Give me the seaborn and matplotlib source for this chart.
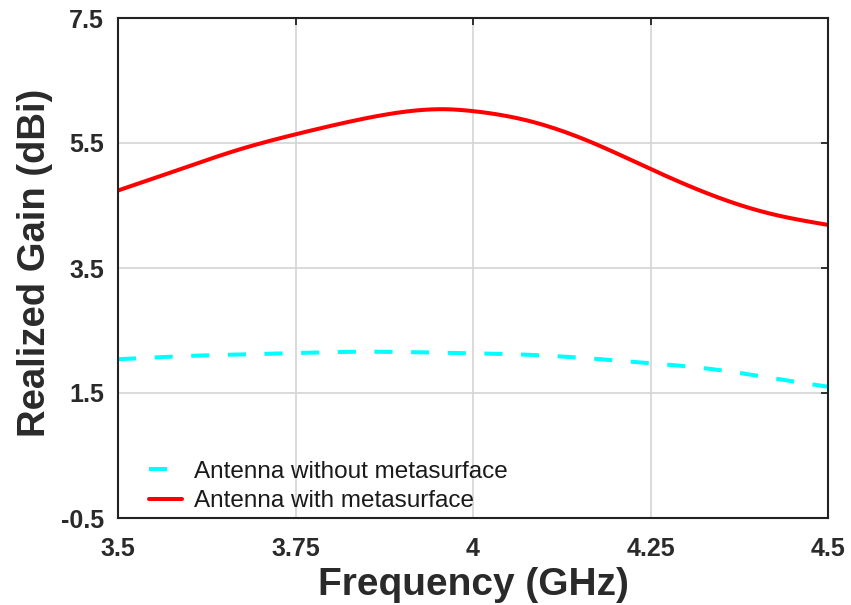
import numpy as np
import pandas as pd
import matplotlib
matplotlib.use("Agg")
import matplotlib.pyplot as plt
import seaborn as sns

# Data
freq_with = [3.5, 3.585, 3.669, 3.754, 3.838, 3.897, 3.963, 4.0, 4.08, 4.165, 4.249, 4.331, 4.415, 4.5]
gain_with = [4.74, 5.07, 5.39, 5.65, 5.87, 5.99, 6.04, 6.01, 5.85, 5.52, 5.09, 4.69, 4.38, 4.19]

freq_without = [3.5, 3.617, 3.721, 3.838, 3.979, 4.028, 4.131, 4.235, 4.338, 4.437, 4.5]
gain_without = [2.04, 2.10, 2.13, 2.16, 2.14, 2.13, 2.08, 1.99, 1.88, 1.71, 1.60]

labels = ["Antenna without metasurface", "Antenna with metasurface"]
xticks = [3.5, 3.75, 4.0, 4.25, 4.5]
xticklabels = ["3.5", "3.75", "4", "4.25", "4.5"]
yticks = [-0.5, 1.5, 3.5, 5.5, 7.5]

sns.set_style("white")
plt.rcParams['font.family'] = ['Liberation Sans', 'DejaVu Sans']


def smooth(x, y, n=300):
    # natural cubic spline through the read points (for a smooth drawn curve)
    x = np.asarray(x, float); y = np.asarray(y, float)
    xs = np.linspace(x.min(), x.max(), n)
    h = np.diff(x)
    nn = len(x)
    A = np.zeros((nn, nn)); b = np.zeros(nn)
    A[0, 0] = 1; A[-1, -1] = 1
    for i in range(1, nn - 1):
        A[i, i - 1] = h[i - 1]; A[i, i] = 2 * (h[i - 1] + h[i]); A[i, i + 1] = h[i]
        b[i] = 3 * ((y[i + 1] - y[i]) / h[i] - (y[i] - y[i - 1]) / h[i - 1])
    c = np.linalg.solve(A, b)
    ys = np.empty_like(xs)
    for k, xv in enumerate(xs):
        i = min(np.searchsorted(x, xv, side='right') - 1, nn - 2)
        dx = xv - x[i]
        bb = (y[i + 1] - y[i]) / h[i] - h[i] * (2 * c[i] + c[i + 1]) / 3
        d = (c[i + 1] - c[i]) / (3 * h[i])
        ys[k] = y[i] + bb * dx + c[i] * dx ** 2 + d * dx ** 3
    return xs, ys


xw, yw = smooth(freq_without, gain_without)
xr, yr = smooth(freq_with, gain_with)
df = pd.concat([
    pd.DataFrame({"Frequency": xw, "Gain": yw, "Series": labels[0]}),
    pd.DataFrame({"Frequency": xr, "Gain": yr, "Series": labels[1]}),
])

fig = plt.figure(figsize=(8.51, 6.05), dpi=100)
ax = fig.add_axes([118 / 851, 1 - 518 / 605, 710 / 851, 500 / 605])

sns.lineplot(data=df, x="Frequency", y="Gain", hue="Series", style="Series",
             palette={labels[0]: "#00FFFF", labels[1]: "#FF0000"},
             dashes={labels[0]: (4.5, 4.6), labels[1]: ""},
             linewidth=2.9, ax=ax, sort=False, estimator=None)

ax.set_xlim(3.5, 4.5)
ax.set_ylim(-0.5, 7.5)
ax.set_xticks(xticks)
ax.set_xticklabels(xticklabels)
ax.set_yticks(yticks)
ax.set_yticklabels([("%g" % v) for v in yticks])
ax.grid(True, color="#d4d4d4", linewidth=1.2)
ax.tick_params(direction="in", length=5, width=1.3, top=True, right=True,
               labelsize=18, colors="#222222")
ax.tick_params(axis="x", pad=14)
ax.tick_params(axis="y", pad=10)
for lab in ax.get_xticklabels() + ax.get_yticklabels():
    lab.set_fontweight("bold")
    lab.set_color("#2a2a2a")
for sp in ax.spines.values():
    sp.set_visible(True)
    sp.set_color("#222222")
    sp.set_linewidth(1.5)

ax.set_xlabel("Frequency (GHz)", fontsize=28, fontweight="bold", color="#2a2a2a", labelpad=4)
ax.set_ylabel("Realized Gain (dBi)", fontsize=27.5, fontweight="bold", color="#2a2a2a")
ax.yaxis.set_label_coords(-0.091, 0.51)

leg = ax.legend(loc="lower left", frameon=False, fontsize=17.5, handlelength=1.35,
                handletextpad=0.5, borderaxespad=0.0, labelspacing=0.3,
                bbox_to_anchor=(0.03, -0.008))
for t in leg.get_texts():
    t.set_color("#1a1a1a")

fig.savefig("out.png", dpi=100)
